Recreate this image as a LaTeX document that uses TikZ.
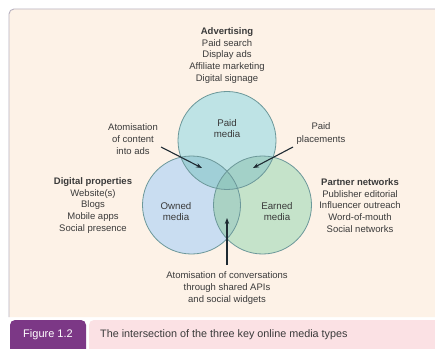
\documentclass[tikz,border=0pt]{standalone}
\usepackage{fontspec}
\setmainfont{Liberation Sans}
\usetikzlibrary{arrows.meta}
\definecolor{panel}{RGB}{253,242,231}
\definecolor{panelrule}{RGB}{184,178,192}
\definecolor{txt}{RGB}{58,58,58}
\definecolor{paidc}{RGB}{190,227,229}
\definecolor{ownedc}{RGB}{201,221,241}
\definecolor{earnedc}{RGB}{197,227,202}
\definecolor{pocol}{RGB}{160,207,215}
\definecolor{pecol}{RGB}{163,209,200}
\definecolor{oecol}{RGB}{170,210,196}
\definecolor{allcol}{RGB}{148,200,192}
\definecolor{ring}{RGB}{108,152,154}
\definecolor{arrowc}{RGB}{30,42,50}
\definecolor{figpurple}{RGB}{124,56,134}
\definecolor{figpink}{RGB}{251,225,228}
\tikzset{
  txtblock/.style={align=center, text=txt, font=\fontsize{9.5}{11.8}\selectfont, inner sep=0pt},
  circlbl/.style={align=center, text=txt, font=\fontsize{9.7}{11}\selectfont, inner sep=0pt},
  vennring/.style={circle, draw=ring, line width=0.8pt, minimum size=98pt, inner sep=0pt},
  pointer/.style={draw=arrowc, line width=1.1pt, -{Stealth[length=6pt,width=4.5pt]}},
}
\begin{document}
\begin{tikzpicture}[x=1pt,y=1pt]
\useasboundingbox (0,0) rectangle (435,348);
\fill[white] (0,0) rectangle (435,348);

% cream panel with a rule along its top and left side
\fill[panel] (9,31) -- (9,334) arc[start angle=180,end angle=90,radius=5] -- (436,339) -- (436,31) -- cycle;
\draw[panelrule, line width=0.9pt] (9,31) -- (9,334) arc[start angle=180,end angle=90,radius=5] -- (436,339);

% centres of the three circles
\coordinate (P) at (227,207.5);
\coordinate (O) at (191.5,143);
\coordinate (E) at (262.5,143);
\def\rad{49}

% circle fills and their overlaps
\fill[paidc] (P) circle[radius=\rad];
\fill[ownedc] (O) circle[radius=\rad];
\fill[earnedc] (E) circle[radius=\rad];
\begin{scope}
  \clip (P) circle[radius=\rad];
  \fill[pocol] (O) circle[radius=\rad];
  \fill[pecol] (E) circle[radius=\rad];
\end{scope}
\begin{scope}
  \clip (O) circle[radius=\rad];
  \fill[oecol] (E) circle[radius=\rad];
  \clip (E) circle[radius=\rad];
  \fill[allcol] (P) circle[radius=\rad];
\end{scope}

% outlines
\node[vennring] (paid) at (P) {};
\node[vennring] (owned) at (O) {};
\node[vennring] (earned) at (E) {};

% circle labels
\node[circlbl] (paidlbl) at (227,219.5) {Paid\\media};
\node[circlbl] (ownedlbl) at (176,136.5) {Owned\\media};
\node[circlbl] (earnedlbl) at (277,136.5) {Earned\\media};

% surrounding text blocks
\node[txtblock] (advert) at (227,292.5) {\textbf{Advertising}\\Paid search\\Display ads\\Affiliate marketing\\Digital signage};
\node[txtblock] (digital) at (93,142.5) {\textbf{Digital properties}\\Website(s)\\Blogs\\Mobile apps\\Social presence};
\node[txtblock] (partner) at (360,142.5) {\textbf{Partner networks}\\Publisher editorial\\Influencer outreach\\Word-of-mouth\\Social networks};
\node[txtblock] (atomads) at (133,209) {Atomisation\\of content\\into ads};
\node[txtblock, font=\fontsize{9.5}{12.5}\selectfont] (placements) at (321,214.5) {Paid\\placements};
\node[txtblock] (atomconv) at (227,60) {Atomisation of conversations\\through shared APIs\\and social widgets};

% pointers into the overlaps
\coordinate (adsfrom) at (161,201);
\coordinate (adsto) at (202,180);
\coordinate (plfrom) at (293,201);
\coordinate (plto) at (253,180);
\coordinate (convfrom) at (227,83);
\coordinate (convto) at (227,130);
\draw[pointer] (adsfrom) -- (adsto);
\draw[pointer] (plfrom) -- (plto);
\draw[pointer] (convfrom) -- (convto);

% caption bar
\fill[figpurple, rounded corners=5pt] (10,-6) rectangle (86,28);
\fill[figpink, rounded corners=5pt] (89,-6) rectangle (445,28);
\node[text=white, font=\fontsize{11}{12}\selectfont, inner sep=0pt] (figno) at (48,13) {Figure 1.2};
\node[anchor=west, text=txt, font=\fontsize{10.8}{12}\selectfont, inner sep=0pt] (figcap) at (100,13) {The intersection of the three key online media types};
\end{tikzpicture}
\end{document}
